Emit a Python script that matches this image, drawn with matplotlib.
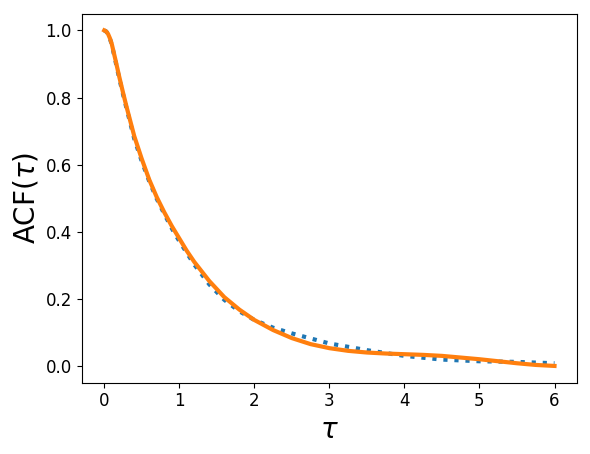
import numpy as np
import matplotlib.pyplot as plt

# orange (solid) ACF estimate
tau_a = [0, 0.025, 0.05, 0.075, 0.1, 0.15, 0.2, 0.25, 0.3, 0.4, 0.5, 0.6, 0.7, 0.8, 0.9,
         1.0, 1.1, 1.2, 1.4, 1.6, 1.8, 2.0, 2.25, 2.5, 2.75, 3.0, 3.25, 3.5, 3.75,
         4.0, 4.25, 4.5, 4.75, 5.0, 5.25, 5.5, 5.75, 6.0]
acf_a = [1.0, 0.997, 0.99, 0.977, 0.96, 0.912, 0.862, 0.815, 0.77, 0.685, 0.617, 0.555,
         0.503, 0.458, 0.417, 0.38, 0.343, 0.31, 0.253, 0.205, 0.168, 0.137, 0.107, 0.083,
         0.065, 0.053, 0.045, 0.040, 0.037, 0.035, 0.033, 0.030, 0.025, 0.020, 0.014,
         0.008, 0.003, 0.0]

# blue (dotted) reference ACF
tau_b = [0, 0.025, 0.05, 0.075, 0.1, 0.15, 0.2, 0.25, 0.3, 0.4, 0.5, 0.6, 0.7, 0.8, 0.9,
         1.0, 1.2, 1.4, 1.6, 1.8, 2.0, 2.25, 2.5, 2.75, 3.0, 3.5, 4.0, 4.5, 5.0, 5.5, 6.0]
acf_b = [1.0, 0.997, 0.99, 0.976, 0.958, 0.908, 0.857, 0.81, 0.765, 0.677, 0.61, 0.55,
         0.498, 0.453, 0.41, 0.372, 0.302, 0.243, 0.197, 0.163, 0.137, 0.114, 0.097,
         0.082, 0.067, 0.047, 0.030, 0.019, 0.014, 0.012, 0.008]

fig = plt.figure(figsize=(5.9, 4.54), dpi=100)
ax = fig.add_subplot(111)
fig.subplots_adjust(left=0.1385, right=0.978, top=0.970, bottom=0.157)

ax.plot(tau_b, acf_b, linestyle=':', linewidth=3, color='tab:blue')
ax.plot(tau_a, acf_a, linewidth=3, color='tab:orange')

ax.set_xlabel(r'$\tau$', fontsize=20)
ax.set_ylabel(r'ACF($\tau$)', fontsize=20)
ax.tick_params(labelsize=12)

fig.savefig('out.png', dpi=100)
